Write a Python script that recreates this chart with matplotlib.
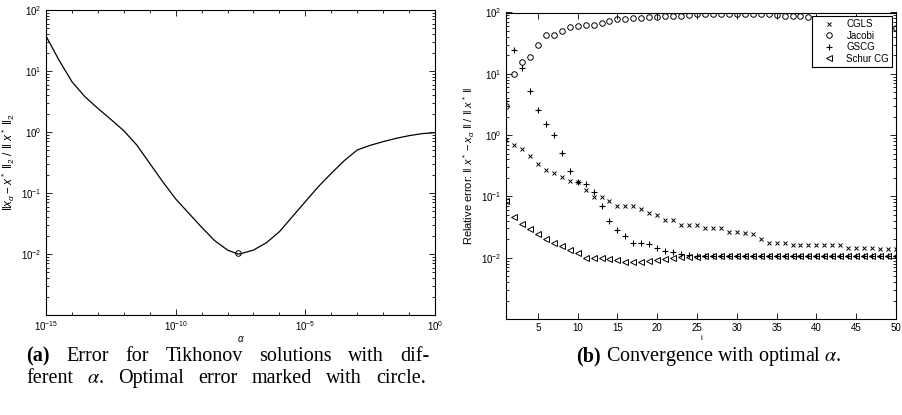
import numpy as np
from matplotlib import pyplot as plt
from matplotlib.ticker import FixedLocator, LogLocator, NullFormatter

plt.rcParams['font.family'] = ['Liberation Sans', 'DejaVu Sans']
plt.rcParams['mathtext.fontset'] = 'custom'
plt.rcParams['mathtext.rm'] = 'Liberation Sans'
plt.rcParams['mathtext.it'] = 'Liberation Sans:italic'
plt.rcParams['mathtext.sf'] = 'Liberation Sans'

# (a) Tikhonov error vs alpha (log10 of alpha)
alpha_exp = [-15, -14.5, -14, -13.5, -13, -12.5, -12, -11.5, -11, -10.5, -10,
             -9.5, -9, -8.5, -8, -7.6, -7.5, -7, -6.5, -6, -5.5, -5, -4.5, -4,
             -3.5, -3, -2.5, -2, -1.5, -1, -0.5, 0]
tik_err = [37.5, 15.1, 6.68, 3.79, 2.44, 1.61, 1.05, 0.612, 0.306, 0.153, 0.080,
           0.0468, 0.0275, 0.0166, 0.0116, 0.0100, 0.0101, 0.0116, 0.0153, 0.0232,
           0.0409, 0.0721, 0.127, 0.210, 0.339, 0.507, 0.604, 0.695, 0.787,
           0.871, 0.940, 0.975]
opt_alpha_exp = -7.6
opt_err = 0.0102

# (b) convergence with optimal alpha
iters = list(range(1, 51))
cgls = [0.84, 0.68, 0.60, 0.45, 0.34, 0.27, 0.237, 0.207, 0.176, 0.17,
        0.125, 0.0975, 0.0975, 0.083, 0.071, 0.071, 0.070, 0.063, 0.053, 0.0496,
        0.0406, 0.0406, 0.0345, 0.0345, 0.0345, 0.0309, 0.0309, 0.0305, 0.0259, 0.0259,
        0.0255, 0.0247, 0.0204, 0.0176, 0.0176, 0.0172, 0.0159, 0.0159, 0.0159, 0.0159,
        0.0159, 0.0159, 0.0159, 0.0146, 0.0146, 0.0146, 0.0146, 0.0138, 0.0138, 0.0138]
nan = float('nan')
jacobi = [3.0, 9.75, 15.7, 18.5, 29, 43.7, 43.7, 49.6, 57.6, 59.8,
          63, 63.5, 67, 74, 77, 78, 80, 80, 83, 85,
          87, 88, 88, 90, 94, 94, 94, 94, 94, 94,
          94, 94, 94, 93, 92, 89, 89, 89, 86, nan,
          nan, nan, nan, nan, nan, nan, nan, nan, nan, 55.6]
gscg = [3.6, 24.6, 12.4, 5.2, 2.56, 1.51, 1.01, 0.51, 0.26, 0.169,
        0.159, 0.116, 0.071, 0.039, 0.0286, 0.0223, 0.0173, 0.0173, 0.0167, 0.0146,
        0.0127, 0.0124, 0.0115, 0.0112, 0.0108, 0.0108, 0.0107, 0.0107, 0.0106, 0.0106,
        0.0106, 0.0106, 0.0106, 0.0106, 0.0106, 0.0106, 0.0106, 0.0106, 0.0106, 0.0106,
        0.0106, 0.0106, 0.0106, 0.0106, 0.0106, 0.0106, 0.0106, 0.0106, 0.0106, 0.0106]
schur = [0.085, 0.046, 0.0354, 0.0297, 0.0246, 0.0201, 0.0171, 0.0153, 0.0132, 0.0118,
         0.0100, 0.0100, 0.0098, 0.0094, 0.0092, 0.0086, 0.0086, 0.0086, 0.0090, 0.0093,
         0.0095, 0.0098, 0.0101, 0.0103, 0.0104, 0.0105, 0.0105, 0.0105, 0.0105, 0.0105,
         0.0105, 0.0105, 0.0105, 0.0105, 0.0105, 0.0105, 0.0105, 0.0105, 0.0105, 0.0105,
         0.0105, 0.0105, 0.0105, 0.0105, 0.0105, 0.0105, 0.0105, 0.0105, 0.0105, 0.0105]

cap_a1 = ['(a)', 'Error', 'for', 'Tikhonov', 'solutions', 'with', 'dif-']
cap_a2 = ['ferent', r'$\alpha$.', 'Optimal', 'error', 'marked', 'with', 'circle.']
cap_b = r' Convergence with optimal $\alpha$.'

W, H = 902, 415
fig = plt.figure(figsize=(W / 100, H / 100), dpi=100)


def box(l, r, t, b):
    return [l / W, 1 - b / H, (r - l) / W, (b - t) / H]


def style(ax):
    ax.tick_params(which='both', direction='in', top=True, right=True,
                   labelsize=7, width=0.6, pad=3)
    ax.tick_params(which='major', length=4)
    ax.tick_params(which='minor', length=2)
    for s in ax.spines.values():
        s.set_linewidth(0.8)
    ax.set_yscale('log')
    ax.set_ylim(1e-3, 1e2)
    ax.yaxis.set_major_locator(FixedLocator([1e-2, 1e-1, 1e0, 1e1, 1e2]))
    ax.yaxis.set_minor_locator(LogLocator(base=10, subs=np.arange(2, 10), numticks=20))
    ax.yaxis.set_minor_formatter(NullFormatter())


# left panel
ax1 = fig.add_axes(box(46, 435, 10, 315))
style(ax1)
ax1.set_xscale('log')
alpha = [10.0 ** e for e in alpha_exp]
ax1.plot(alpha, tik_err, color='black', lw=0.9)
ax1.plot([10.0 ** opt_alpha_exp], [opt_err], 'o', mfc='none', mec='black', ms=4, mew=0.7)
ax1.set_xlim(1e-15, 1)
ax1.xaxis.set_major_locator(FixedLocator([1e-15, 1e-10, 1e-5, 1]))
ax1.xaxis.set_minor_locator(FixedLocator([10.0 ** k for k in range(-15, 1)]))
ax1.xaxis.set_minor_formatter(NullFormatter())
ax1.set_xlabel(r'$\alpha$', fontsize=7, labelpad=1)
ax1.set_ylabel(r'$\|x_\alpha - x^*\ \|_2\ /\ \|\ x^*\ \|_2$', fontsize=8.5, labelpad=3)

# right panel
ax2 = fig.add_axes(box(506, 896, 12.5, 319))
style(ax2)
ax2.plot(iters, cgls, 'x', color='black', ms=3, mew=0.7, label='CGLS')
ax2.plot(iters, jacobi, 'o', mfc='none', mec='black', ms=4, mew=0.7, label='Jacobi')
ax2.plot(iters, gscg, '+', color='black', ms=4.5, mew=0.8, label='GSCG')
ax2.plot(iters, schur, '<', mfc='none', mec='black', ms=3.8, mew=0.7, label='Schur CG')
ax2.set_xlim(1, 50)
ax2.set_xticks(range(5, 51, 5))
ax2.set_xlabel('i', fontsize=6, labelpad=1)
ax2.set_ylabel(r'Relative error: $\|\ x^* - x_\alpha\ \|\ /\ \|\ x^*\ \|$', fontsize=8, labelpad=3)
leg = ax2.legend(loc='upper right', bbox_to_anchor=(0.99, 0.987), fontsize=7,
                 fancybox=False, framealpha=1, edgecolor='black', borderpad=0.3,
                 labelspacing=0.15, handletextpad=0.4, handlelength=2.8,
                 borderaxespad=0.0)
leg.get_frame().set_linewidth(0.8)
leg.set_zorder(5)

# captions, justified like the LaTeX subcaption
cap_font = ['Liberation Serif', 'DejaVu Serif']
cap_size = 14.5
renderer = fig.canvas.get_renderer()


def justify(words, x0, x1, y):
    texts = []
    for w in words:
        weight = 'bold' if w.startswith('(') else 'normal'
        texts.append(fig.text(0, 1 - y / H, w, fontsize=cap_size, family=cap_font,
                              weight=weight, va='baseline', math_fontfamily='stix'))
    widths = [t.get_window_extent(renderer).width for t in texts]
    gap = (x1 - x0 - sum(widths)) / (len(words) - 1)
    x = x0
    for t, w in zip(texts, widths):
        t.set_x(x / W)
        x += w + gap


justify(cap_a1, 26, 430, 361)
justify(cap_a2, 26, 426, 383)
tb = fig.text(576 / W, 1 - 361 / H, '(b)', fontsize=cap_size, family=cap_font,
              weight='bold', va='baseline')
wb = tb.get_window_extent(renderer).width
fig.text((576 + wb) / W, 1 - 361 / H, cap_b, fontsize=cap_size, family=cap_font,
         va='baseline', math_fontfamily='stix')

fig.savefig('out.png', dpi=100)
